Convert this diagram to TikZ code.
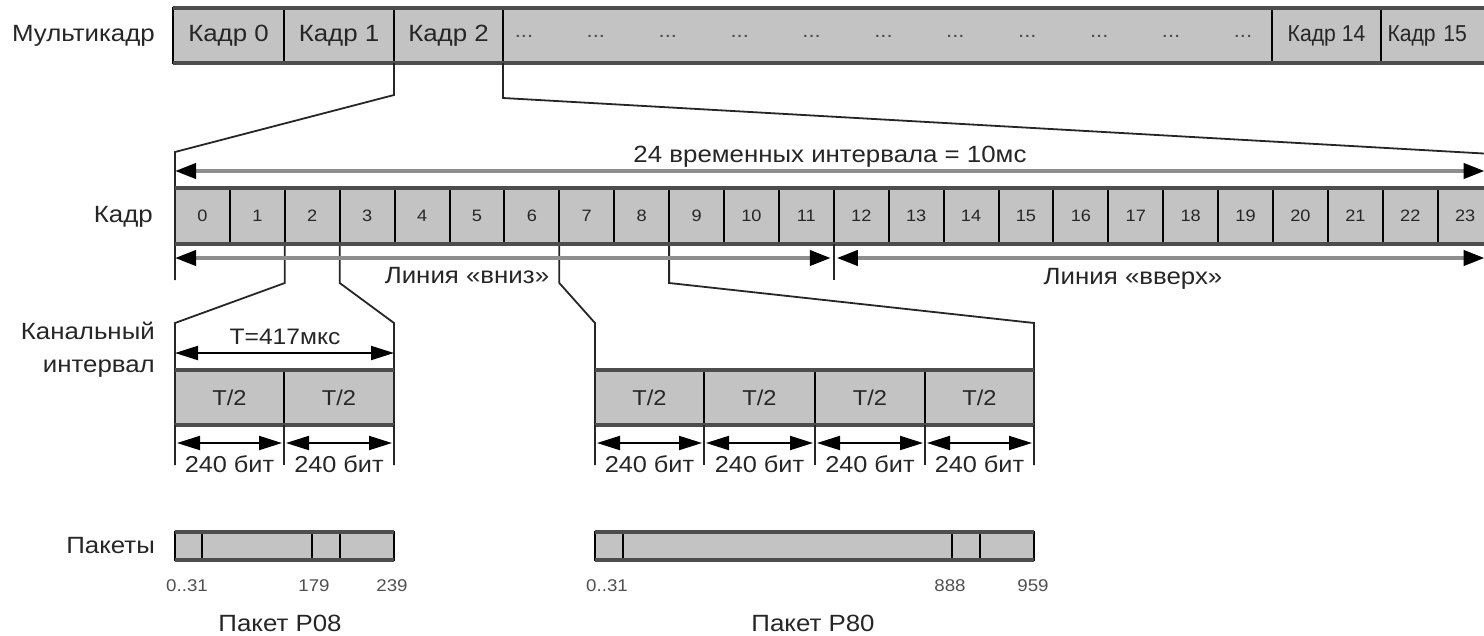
\documentclass[tikz,border=0pt]{standalone}
\usepackage{fontspec}
\setmainfont{Liberation Sans}[FakeStretch=1.1]
\newfontfamily\narrowfont{Liberation Sans}[FakeStretch=0.92]
\usetikzlibrary{arrows.meta,calc}
\definecolor{cellgray}{HTML}{C3C3C3}
\definecolor{ink}{HTML}{262626}
\definecolor{shaft}{HTML}{8E8E8E}
\definecolor{edge}{HTML}{4D4D4D}
\definecolor{numgray}{HTML}{505050}
\newcommand\fs[1]{\fontsize{#1}{#1}\selectfont}
\begin{document}
\begin{tikzpicture}[x=1pt,y=-1pt,
  cell/.style={draw=black, line width=2pt, fill=cellgray, inner sep=0pt, outer sep=0pt, anchor=north west, text=ink},
  rim/.style={draw=edge, line width=4.5pt},
  conn/.style={draw=ink, line width=1.8pt},
  tick/.style={draw=ink, line width=1.8pt},
  lbl/.style={text=ink, inner sep=0pt},
  numlbl/.style={text=numgray, inner sep=0pt, font=\fs{17}},
  bigarrow/.style={draw=shaft, line width=4pt, {Triangle[length=21pt,width=15pt,color=black]}-{Triangle[length=21pt,width=15pt,color=black]}},
  smallarrow/.style={draw=black, line width=2pt, {Triangle[length=23pt,width=14pt]}-{Triangle[length=23pt,width=14pt]}}
]
\clip (0,0) rectangle (1484,635);
\fill[white] (0,0) rectangle (1484,635);

% ---------- multiframe ----------
\node[cell, minimum width=111pt, minimum height=55pt, font=\fs{23.5}] (k0) at (173,8) {Кадр 0};
\node[cell, minimum width=110pt, minimum height=55pt, font=\fs{23.5}] (k1) at (284,8) {Кадр 1};
\node[cell, minimum width=109pt, minimum height=55pt, font=\fs{23.5}] (k2) at (394,8) {Кадр 2};
\node[cell, minimum width=769pt, minimum height=55pt] (kd) at (503,8) {};
\node[cell, minimum width=109pt, minimum height=55pt, font=\narrowfont\fs{23}] (k14) at (1272,8) {Кадр 14};
\node[cell, minimum width=111pt, minimum height=55pt, font=\narrowfont\fs{23}, text width=98pt, align=left] (k15) at (1381,8) {Кадр 15};
\draw[rim] (k0.north west) -- (k15.north east);
\draw[rim] (k0.south west) -- (k15.south east);
\foreach \i in {0,...,10} \node[lbl, font=\fs{20}, text=edge] (dd\i) at ({524+71.9*\i},36) {...};

% ---------- cells ----------
\node[cell, minimum width=109pt, minimum height=55pt, font=\fs{21.5}] (h1) at (175,370) {T/2};
\node[cell, minimum width=110pt, minimum height=55pt, font=\fs{21.5}] (h2) at (284,370) {T/2};
\node[cell, minimum width=109pt, minimum height=55pt, font=\fs{21.5}] (g1) at (595,370) {T/2};
\node[cell, minimum width=111pt, minimum height=55pt, font=\fs{21.5}] (g2) at (704,370) {T/2};
\node[cell, minimum width=110pt, minimum height=55pt, font=\fs{21.5}] (g3) at (815,370) {T/2};
\node[cell, minimum width=109pt, minimum height=55pt, font=\fs{21.5}] (g4) at (925,370) {T/2};

\foreach \i in {0,...,23} \node[cell, minimum width=54.9pt, minimum height=56pt, font=\fs{16.5}] (s\i) at ({175+54.9*\i},188) {\i};

% ---------- connectors ----------
\draw[conn] (k1.south east) -- ++(0,32) -- ($(s0.north west)+(0,-36)$) -- ($(s0.south west)+(0,36)$);
\draw[conn] (k2.south east) -- ++(0,35) -- ($(s23.north east)+(0,-34)$) -- ($(s23.south east)+(0,36)$);

\draw[conn] (s2.south west) -- ++(0,39) -- ($(h1.north west)+(0,-47)$) -- ($(h1.south west)+(0,40)$);
\draw[conn] (s3.south west) -- ++(0,39) -- ($(h2.north east)+(0,-47)$) -- ($(h2.south east)+(0,40)$);
\draw[conn] (s7.south west) -- ++(0,39) -- ($(g1.north west)+(0,-47)$) -- ($(g1.south west)+(0,40)$);
\draw[conn] (s9.south west) -- ++(0,39) -- ($(g4.north east)+(0,-47)$) -- ($(g4.south east)+(0,40)$);

\draw[rim] (s0.north west) -- (s23.north east);
\draw[rim] (s0.south west) -- (s23.south east);
\draw[rim] (h1.north west) -- (h2.north east);
\draw[rim] (h1.south west) -- (h2.south east);
\draw[rim] (g1.north west) -- (g4.north east);
\draw[rim] (g1.south west) -- (g4.south east);

% ---------- row labels ----------
\node[lbl, anchor=east, font=\fs{23.5}] (lm) at (155,36) {Мультикадр};
\node[lbl, anchor=east, font=\fs{23.5}] (lk) at (153,217) {Кадр};
\node[lbl, anchor=east, align=right, font=\fontsize{23.5}{33}\selectfont] (lc) at (155,350) {Канальный\\интервал};
\node[lbl, anchor=east, font=\fs{23.5}] (lp) at (155,546) {Пакеты};

% ---------- frame arrows ----------
\draw[bigarrow] ($(s0.north west)+(0,-17)$) -- ($(s23.north east)+(-8,-17)$);
\node[lbl, font=\fs{23.5}] (t24) at (830,157) {24 временных интервала = 10мс};
\draw[bigarrow] ($(s0.south west)+(0,14)$) -- ($(s12.south west)+(-3,14)$);
\draw[bigarrow] ($(s12.south west)+(3,14)$) -- ($(s23.south east)+(-8,14)$);
\draw[tick] (s12.south west) -- ++(0,36);
\node[lbl, font=\fs{23.5}] (ld) at (467,276) {Линия «вниз»};
\node[lbl, font=\fs{23.5}] (lu) at (1133,279) {Линия «вверх»};

% ---------- channel interval ----------
\draw[smallarrow] ($(h1.north west)+(0,-17)$) -- ($(h2.north east)+(0,-17)$);
\node[lbl, font=\fs{22.4}] (tt) at (285,337) {T=417мкс};
\foreach \n in {h1,h2,g1,g2,g3,g4}{
  \draw[tick] (\n.south west) -- ++(0,40);
  \draw[tick] (\n.south east) -- ++(0,40);
  \draw[smallarrow] ($(\n.south west)+(2,18)$) -- ($(\n.south east)+(-2,18)$);
  \node[lbl, font=\fs{23}] (b\n) at ($(\n.south)+(0,39)$) {240 бит};
}

% ---------- packets ----------
\node[cell, minimum width=27pt, minimum height=28pt] (pa0) at (175,532) {};
\node[cell, minimum width=110pt, minimum height=28pt] (pa1) at (202,532) {};
\node[cell, minimum width=28pt, minimum height=28pt] (pa2) at (312,532) {};
\node[cell, minimum width=54pt, minimum height=28pt] (pa3) at (340,532) {};
\node[cell, minimum width=28pt, minimum height=28pt] (pb0) at (595,532) {};
\node[cell, minimum width=329pt, minimum height=28pt] (pb1) at (623,532) {};
\node[cell, minimum width=28pt, minimum height=28pt] (pb2) at (952,532) {};
\node[cell, minimum width=54pt, minimum height=28pt] (pb3) at (980,532) {};
\draw[rim] (pa0.north west) -- (pa3.north east);
\draw[rim] (pa0.south west) -- (pa3.south east);
\draw[rim] (pb0.north west) -- (pb3.north east);
\draw[rim] (pb0.south west) -- (pb3.south east);

\node[numlbl] (na1) at (187,586) {0..31};
\node[numlbl] (na2) at (314,586) {179};
\node[numlbl] (na3) at (392,586) {239};
\node[numlbl] (nb1) at (607,586) {0..31};
\node[numlbl] (nb2) at (950,586) {888};
\node[numlbl] (nb3) at (1033,586) {959};
\node[lbl, font=\fs{23.5}] (pt1) at (280,623) {Пакет P08};
\node[lbl, font=\fs{23.5}] (pt2) at (813,623) {Пакет P80};
\end{tikzpicture}
\end{document}
